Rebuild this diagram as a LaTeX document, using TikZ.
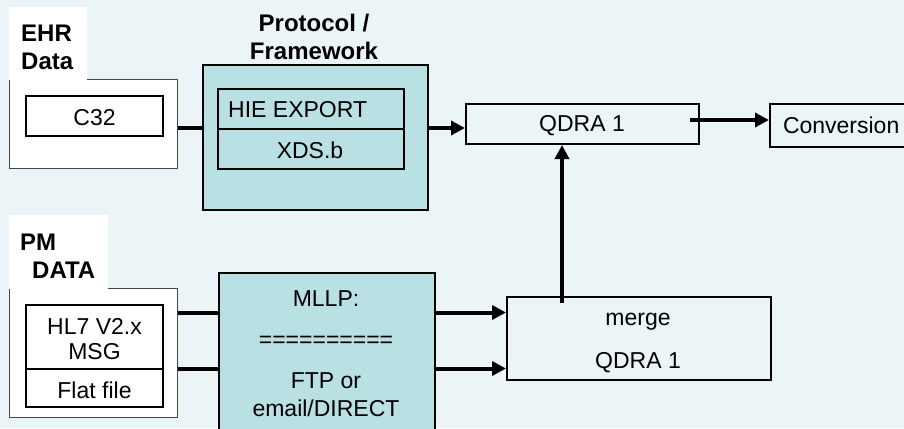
\documentclass[tikz,border=0pt]{standalone}
\usepackage{fontspec}
\setmainfont{Liberation Sans}
\usetikzlibrary{arrows.meta,calc}
\definecolor{bgcol}{RGB}{235,244,246}
\definecolor{teal1}{RGB}{185,224,227}
\definecolor{edgegray}{RGB}{70,70,70}
\begin{document}
\begin{tikzpicture}[x=1pt,y=-1pt,
  every node/.style={font=\fontsize{23}{28}\selectfont, inner sep=0pt, anchor=north west},
  outerbox/.style={draw=edgegray, line width=1.3pt, fill=white},
  labelbox/.style={fill=white},
  lbl/.style={font=\fontsize{24}{28}\selectfont\bfseries, align=left, anchor=west},
  box/.style={draw=black, line width=2pt},
  tealbox/.style={draw=black, line width=2pt, fill=teal1},
  txt/.style={align=center, anchor=center, yshift=-2pt},
  conn/.style={line width=4pt},
  arr/.style={line width=4pt, -{Triangle[length=14pt,width=14pt]}}
]
\useasboundingbox (0,0) rectangle (904,428);
\clip (0,0) rectangle (904,428);
\fill[bgcol] (0,0) rectangle (904,428);

% EHR group
\node[outerbox, minimum width=168pt, minimum height=89pt] (ehrbox) at (9,79) {};
\node[labelbox, minimum width=78pt, minimum height=73pt] (ehrlab) at (9,7) {};
\node[lbl] (ehrtxt) at (21,47) {EHR\\Data};
\node[box, fill=white, minimum width=137pt, minimum height=40pt] (c32) at (25,95) {};
\node[txt] (c32t) at (c32.center) {C32};

% PM group
\node[outerbox, minimum width=168pt, minimum height=129pt] (pmbox) at (9,288) {};
\node[labelbox, minimum width=99pt, minimum height=74pt] (pmlab) at (9,215) {};
\node[lbl] (pmtxt) at (20,256) {PM\\\hspace*{12pt}DATA};
\node[box, fill=white, minimum width=137pt, minimum height=64pt] (hl7) at (25,304) {};
\node[box, fill=white, minimum width=137pt, minimum height=38pt] (flat) at (25,368) {};
\node[txt, font=\fontsize{23}{25}\selectfont] (hl7t) at (hl7.center) {HL7 V2.x\\MSG};
\node[txt] (flatt) at (flat.center) {Flat file};

% Protocol / Framework
\node[font=\fontsize{24}{28}\selectfont\bfseries, txt] (protlab) at (314,35) {Protocol /\\Framework};
\node[tealbox, minimum width=225pt, minimum height=145pt] (proto) at (202,64) {};
\node[tealbox, minimum width=186pt, minimum height=40pt] (hie) at (217,88) {};
\node[tealbox, minimum width=186pt, minimum height=40pt] (xds) at (217,128) {};
\node[anchor=west, yshift=-2pt] (hiet) at (228,108) {HIE EXPORT};
\node[txt] (xdst) at (310,148) {XDS.b};

% MLLP box
\node[tealbox, minimum width=216pt, minimum height=170pt] (mllp) at (218,272) {};
\node[txt] (mllpt) at (326,352) {MLLP:\\[13pt]==========\\[13pt]FTP or\\email/DIRECT};

% QDRA top and conversion
\node[box, fill=bgcol, minimum width=233pt, minimum height=40pt] (qdra) at (465,103) {};
\node[txt] (qdrat) at (582,124) {QDRA 1};
\node[box, fill=bgcol, minimum height=43pt, inner xsep=13pt] (conv) at (769,103) {Conversion};

% merge box
\node[box, fill=bgcol, minimum width=264pt, minimum height=83pt] (merge) at (506,296) {};
\node[txt] (merget) at (638,341) {merge\\[15pt]QDRA 1};

% connectors
\coordinate (r0) at (690,120);
\coordinate (r1) at (0,312.5);
\coordinate (r2) at (0,368.5);
\coordinate (mid) at (562,0);
\draw[conn] (ehrbox.east |- xds.north) -- (proto.west |- xds.north);
\draw[arr] (proto.east |- xds.north) -- (qdra.west |- xds.north);
\draw[arr] (r0) -- (conv.west |- r0);
\draw[conn] (pmbox.east |- r1) -- (mllp.west |- r1);
\draw[conn] (pmbox.east |- r2) -- (mllp.west |- r2);
\draw[arr] (mllp.east |- r1) -- (merge.west |- r1);
\draw[arr] (mllp.east |- r2) -- (merge.west |- r2);
\draw[arr] ([yshift=-7pt]merge.north -| mid) -- (qdra.south -| mid);
\end{tikzpicture}
\end{document}
